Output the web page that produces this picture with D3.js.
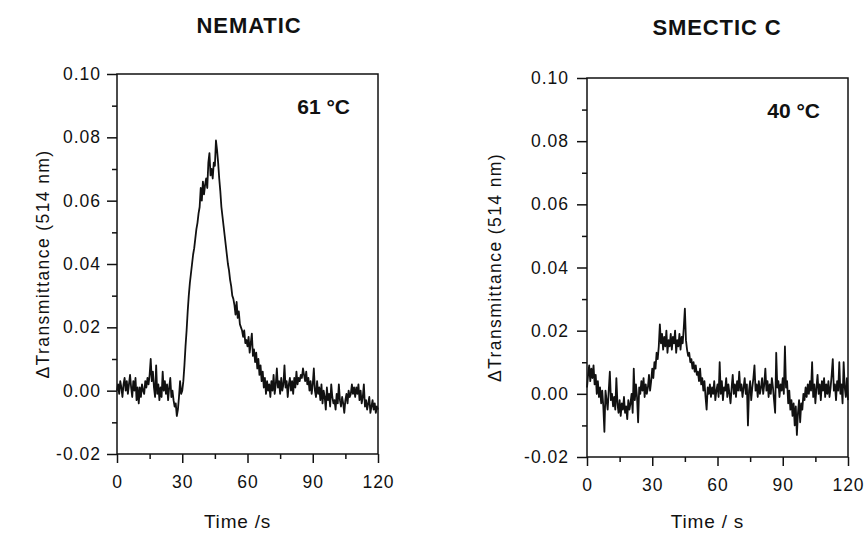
<!DOCTYPE html>
<html>
<head>
<meta charset="utf-8">
<script src="https://cdn.jsdelivr.net/npm/d3@7"></script>
<style>
  body { margin: 0; background: #fff; }
  text { font-family: "Liberation Sans", Arial, sans-serif; fill: #111; }
</style>
</head>
<body>
<div id="chart"></div>
<script>
// time axis, one reading every 0.5 s from 0 to 120 s
var timeStep = 0.5;

// NEMATIC, 61 °C  (values in units of 0.001)
var nematicValues = [
  0, 2, -1, 3, 1, -2, 2, 4, 0, 3, -1, 2, 5, 1, -2, 3, 0, 4, -3, 1,
  -4, 1, -2, 2, 0, -1, 3, 1, 4, 2, 5, 10, 3, 6, 1, -2, 8, -1, 2, -3,
  1, -2, 6, 0, 3, -1, 2, -3, 1, 4, -2, 0, -3, -5, -4, -8, -6, -2, 3, -1,
  0, 3, 8, 14, 19, 25, 30, 34, 37, 40, 43, 45, 48, 51, 53, 56, 58, 64, 60, 66,
  62, 65, 67, 64, 72, 75, 68, 70, 67, 72, 71, 79, 76, 72, 67, 63, 58, 55, 52, 49,
  46, 43, 40, 38, 35, 33, 30, 29, 27, 24, 28, 23, 25, 21, 20, 19, 17, 19, 15, 16,
  14, 17, 12, 15, 18, 11, 13, 9, 12, 7, 10, 5, 8, 3, 6, 1, 4, -1, 3, 0,
  2, -2, 3, 0, 5, -1, 2, 7, 1, 3, -1, 4, 0, 2, 8, 1, 3, -2, 2, 4,
  0, 3, -1, 4, 1, 6, 2, 4, 3, 5, 4, 7, 5, 3, 6, 2, 4, 0, 3, -1,
  2, 7, 0, -2, 3, -1, 1, -3, 2, -4, 0, -2, -6, 1, -3, -1, -5, 2, -2, -4,
  -3, -6, -1, -4, 2, -3, -5, -2, -4, -7, -3, -1, -4, 0, -2, -1, 2, -1, 1, -2,
  1, -1, 2, -3, 0, -4, -2, 2, -5, -3, -6, -4, -2, -7, -5, -3, -6, -4, -7, -5,
  -6
];

// SMECTIC C, 40 °C  (values in units of 0.001)
var smecticValues = [
  2, 6, 9, 4, 8, 5, 9, 3, 6, 0, 4, -1, 2, -3, 1, -4, -12, 1, -2, -5,
  1, 7, -2, 0, -4, -1, -5, 5, -3, -6, -2, -7, -3, -5, -1, -6, -4, -8, -2, -5,
  -3, 0, -6, 8, -2, 3, -1, -9, 2, 0, 4, 1, 5, -1, 3, 0, 2, 6, 1, 4,
  8, 5, 10, 8, 13, 11, 15, 22, 16, 19, 14, 18, 15, 20, 13, 17, 15, 19, 14, 18,
  16, 20, 13, 17, 15, 19, 14, 18, 16, 21, 27, 17, 14, 12, 13, 10, 11, 8, 10, 7,
  9, 6, 7, 4, 8, 3, 5, 1, 4, -1, -5, 2, 0, 3, -1, 2, 0, 4, -2, 1,
  3, -1, 10, 0, 4, -2, 2, 1, 5, -1, 3, 0, -3, 2, 6, 0, 3, -1, 4, 1,
  7, 1, 3, -1, 2, 5, 0, 3, -10, 1, 4, -2, 2, 5, 9, 1, 3, -1, 4, 0,
  2, 5, 0, 3, 8, 1, 4, -1, 3, 0, 5, 2, -2, -6, 13, 2, 4, -1, 3, 1,
  5, 0, 15, 2, 4, -3, 1, -5, -2, -7, -3, -10, -4, -13, -6, -2, -9, -3, -5, 0,
  -2, 2, -1, 3, 0, 4, 1, 10, -1, 3, -3, 2, 6, 0, 3, -2, 4, 1, 5, -1,
  3, 0, 4, -1, 2, 6, 11, 1, 3, -2, 4, 1, 10, 0, 3, -3, 10, 2, -1, 5,
  -2
];

var xTicks = [0, 30, 60, 90, 120];
var xMinor = [15, 45, 75, 105];
var yTicks = [-0.02, 0.00, 0.02, 0.04, 0.06, 0.08, 0.10];
var yMinor = [-0.01, 0.01, 0.03, 0.05, 0.07, 0.09];

var panels = [
  {title: "NEMATIC", temp: "61 \u00B0C", values: nematicValues, xLabel: "Time /s",
   left: 117, right: 378, top: 74, bottom: 454, titleX: 249, titleY: 33, yLabelX: 43, yPad: 6},
  {title: "SMECTIC C", temp: "40 \u00B0C", values: smecticValues, xLabel: "Time / s",
   left: 587, right: 848, top: 78, bottom: 457, titleX: 717, titleY: 35, yLabelX: 495, yPad: 8}
];

var fmtY = function(d) { return d3.format(".2f")(d).replace("\u2212", "-"); };

var svg = d3.select("#chart")
  .append("svg")
  .attr("width", 866)
  .attr("height", 534);

panels.forEach(function(p) {
  var data = p.values.map(function(v, i) { return {t: i * timeStep, v: v / 1000}; });

  var x = d3.scaleLinear().domain([0, 120]).range([p.left, p.right]);
  var y = d3.scaleLinear().domain([-0.02, 0.10]).range([p.bottom, p.top]);

  // title
  svg.append("text")
    .attr("x", p.titleX)
    .attr("y", p.titleY)
    .attr("text-anchor", "middle")
    .style("font-size", "22px")
    .style("font-weight", "bold")
    .style("letter-spacing", "0.9px")
    .text(p.title);

  // frame
  svg.append("rect")
    .attr("x", p.left)
    .attr("y", p.top)
    .attr("width", p.right - p.left)
    .attr("height", p.bottom - p.top)
    .style("fill", "none")
    .style("stroke", "#111")
    .style("stroke-width", 1.5);

  // minor ticks
  svg.append("g")
    .attr("transform", "translate(0," + p.bottom + ")")
    .call(d3.axisBottom(x).tickValues(xMinor).tickSize(5).tickFormat(""))
    .call(function(g) { g.select(".domain").remove(); });
  svg.append("g")
    .attr("transform", "translate(" + p.left + ",0)")
    .call(d3.axisLeft(y).tickValues(yMinor).tickSize(5).tickFormat(""))
    .call(function(g) { g.select(".domain").remove(); });

  // major ticks
  var xAxis = svg.append("g")
    .attr("transform", "translate(0," + p.bottom + ")")
    .call(d3.axisBottom(x).tickValues(xTicks).tickSize(9).tickPadding(13).tickFormat(d3.format("d")));
  var yAxis = svg.append("g")
    .attr("transform", "translate(" + p.left + ",0)")
    .call(d3.axisLeft(y).tickValues(yTicks).tickSize(10).tickPadding(p.yPad).tickFormat(fmtY));

  [xAxis, yAxis].forEach(function(g) {
    g.select(".domain").remove();
    g.selectAll("text")
      .style("font-size", "17.5px")
      .style("letter-spacing", "1px")
      .style("font-family", "Liberation Sans, Arial, sans-serif")
      .style("fill", "#111");
  });
  svg.selectAll(".tick line").style("stroke", "#111").style("stroke-width", 1.5);

  // trace
  var line = d3.line()
    .x(function(d) { return x(d.t); })
    .y(function(d) { return y(d.v); });

  svg.append("path")
    .datum(data)
    .attr("d", line)
    .style("fill", "none")
    .style("stroke", "#111")
    .style("stroke-width", 1.8)
    .style("stroke-linejoin", "round");

  // temperature label
  svg.append("text")
    .attr("x", p.right - 28)
    .attr("y", p.top + 40)
    .attr("text-anchor", "end")
    .style("font-size", "21px")
    .style("font-weight", "bold")
    .text(p.temp);

  // axis labels
  svg.append("text")
    .attr("x", (p.left + p.right) / 2 - 10)
    .attr("y", 528)
    .attr("text-anchor", "middle")
    .style("font-size", "19px")
    .style("letter-spacing", "0.8px")
    .text(p.xLabel);

  svg.append("text")
    .attr("transform", "translate(" + p.yLabelX + "," + ((p.top + p.bottom) / 2) + ") rotate(-90)")
    .attr("text-anchor", "middle")
    .attr("dy", "0.35em")
    .style("font-size", "17.5px")
    .style("letter-spacing", "1.4px")
    .text("\u0394Transmittance (514 nm)");
});
</script>
</body>
</html>
